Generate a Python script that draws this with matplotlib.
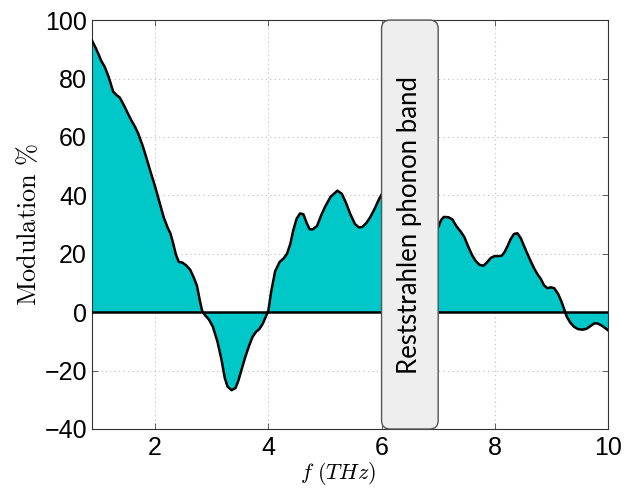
import numpy as np
import matplotlib
matplotlib.use('Agg')
import matplotlib.pyplot as plt
from matplotlib.patches import FancyBboxPatch

plt.rcParams['mathtext.fontset'] = 'cm'

# frequency (THz) and modulation (%)
freq = [0.885, 0.95, 1.0, 1.05, 1.11, 1.18, 1.26, 1.32, 1.375, 1.45, 1.52, 1.58,
        1.65, 1.7, 1.78, 1.85, 1.92, 2.0, 2.08, 2.15, 2.22, 2.27, 2.32, 2.37,
        2.42, 2.48, 2.55, 2.62, 2.68, 2.74, 2.79, 2.83, 2.88, 2.95, 3.02, 3.1,
        3.17, 3.23, 3.28, 3.35, 3.42, 3.47, 3.53, 3.59, 3.66, 3.72, 3.78, 3.84,
        3.9, 3.95, 4.0, 4.05, 4.12, 4.2, 4.27, 4.33, 4.39, 4.44, 4.5, 4.56,
        4.62, 4.68, 4.73, 4.78, 4.86, 4.93, 5.0, 5.1, 5.22, 5.3, 5.37, 5.45,
        5.53, 5.6, 5.66, 5.73, 5.8, 5.88, 5.95, 6.02, 6.2, 6.4, 6.6, 6.8,
        7.0, 7.05, 7.1, 7.18, 7.25, 7.32, 7.4, 7.46, 7.53, 7.6, 7.66, 7.73,
        7.8, 7.86, 7.93, 8.0, 8.07, 8.12, 8.17, 8.22, 8.28, 8.34, 8.4, 8.46,
        8.52, 8.58, 8.64, 8.7, 8.76, 8.81, 8.87, 8.93, 8.99, 9.05, 9.12, 9.18,
        9.23, 9.27, 9.33, 9.4, 9.47, 9.55, 9.62, 9.7, 9.76, 9.82, 9.88, 9.94, 10.0]
modulation = [93, 90.5, 88.3, 86, 84, 80.5, 75.5, 74.3, 73.5, 70.8, 68, 65.7,
              63.3, 61.2, 57, 52.6, 48, 43, 37.5, 32.6, 29, 27, 23.5, 19.5,
              17.2, 17, 16, 14.5, 12, 9, 4, 0.5, -1, -2.5, -5, -10,
              -16, -22.5, -25.5, -26.7, -26, -23.5, -19.5, -15.5, -11.5, -8.5, -6.8, -5.8,
              -4, -1.8, 0.5, 7, 14, 17.2, 18.4, 20, 23.5, 28, 32, 33.8,
              33.5, 30.4, 28.4, 28.3, 29.5, 33, 36, 39.5, 41.6, 40.5, 37.5, 33.5,
              30.2, 29, 29.2, 30.5, 32.5, 35.5, 38.5, 41, 44, 42, 38, 33,
              29, 31.5, 32.6, 32.5, 31.8, 29.5, 27.5, 25.8, 22.5, 19.5, 17.6, 16.2,
              15.9, 17, 18.6, 19.2, 19.2, 19.3, 20.5, 22.4, 25, 26.8, 27, 25.3,
              22.5, 19.8, 17.2, 14.8, 12.8, 11.5, 9.2, 8.2, 8.5, 8.2, 6.2, 3.5,
              0.8, -1.5, -3.5, -5, -5.8, -6, -5.7, -4.6, -3.8, -3.9, -4.5, -5.3, -6.2]

band = (6.0, 7.0)
band_label = 'Reststrahlen phonon band'

fig = plt.figure(figsize=(6.37, 4.9), dpi=100)
ax = fig.add_axes([0.1444, 0.1245, 0.8101, 0.8345])

x = np.array(freq)
y = np.array(modulation)
ax.fill_between(x, y, 0, color='#00c8c8', linewidth=0, interpolate=True, zorder=2)
ax.plot(x, y, color='black', lw=1.8, zorder=3)
ax.axhline(0, color='black', lw=1.8, zorder=3)

xlim = (0.885, 10)
ylim = (-40, 100)
ax.set_xlim(xlim)
ax.set_ylim(ylim)
ax.set_xticks([2, 4, 6, 8, 10])
ax.set_yticks([-40, -20, 0, 20, 40, 60, 80, 100])
ax.set_yticklabels(['\u221240', '\u221220', '0', '20', '40', '60', '80', '100'])
ax.tick_params(direction='in', top=True, right=True, labelsize=18, length=4,
               width=0.6, color='#444444')
for lab in ax.get_xticklabels() + ax.get_yticklabels():
    lab.set_family('Liberation Sans')
ax.tick_params(axis='x', pad=5)
ax.grid(True, linestyle=(0, (1, 3)), color='#bbbbbb', lw=0.8, zorder=0)
ax.set_axisbelow(True)
for s in ax.spines.values():
    s.set_linewidth(0.8)
    s.set_color('#333333')

# rounded box for the phonon band
w_px = ax.get_position().width * fig.get_figwidth()
h_px = ax.get_position().height * fig.get_figheight()
aspect = (w_px / (xlim[1] - xlim[0])) / (h_px / (ylim[1] - ylim[0]))
box = FancyBboxPatch((band[0], ylim[0]), band[1] - band[0], ylim[1] - ylim[0],
                     boxstyle='round,pad=0,rounding_size=0.15',
                     mutation_aspect=aspect, facecolor='#eeeeee',
                     edgecolor='#555555', lw=1.0, zorder=4, clip_on=False)
ax.add_patch(box)
ax.text(sum(band) / 2, 30, band_label, rotation=90, ha='center', va='center',
        fontsize=18.5, family='Lato', zorder=5)

ax.set_xlabel(r'$f\ (THz)$', fontsize=16)
ax.xaxis.set_label_coords(0.477, -0.076)
ax.set_ylabel(r'$\mathrm{Modulation}\ \%$', fontsize=19, labelpad=2)

fig.savefig('out.png', dpi=100)
